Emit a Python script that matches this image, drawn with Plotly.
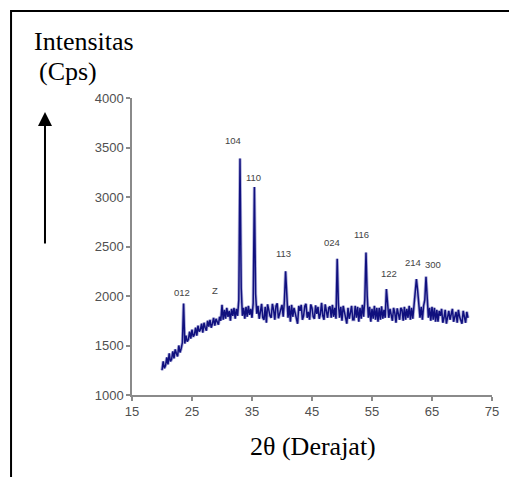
import plotly.graph_objects as go

# ---- data ----
theta_start = 20.0
theta_step = 0.2
intensity = [
    1250, 1340, 1270, 1300, 1380, 1310, 1420, 1340, 1360, 1440,
    1370, 1460, 1420, 1390, 1500, 1430, 1470, 1530, 1925, 1520,
    1600, 1540, 1560, 1640, 1570, 1660, 1590, 1610, 1680, 1600,
    1700, 1640, 1660, 1720, 1630, 1730, 1680, 1650, 1750, 1690,
    1760, 1680, 1720, 1780, 1700, 1770, 1740, 1710, 1790, 1750,
    1910, 1760, 1860, 1770, 1880, 1790, 1850, 1750, 1870, 1800,
    1880, 1770, 1870, 1800, 1960, 3390, 2080, 1800, 1880, 1770,
    1890, 1790, 1900, 1810, 1870, 1780, 1930, 3100, 2020, 1820,
    1900, 1770, 1840, 1920, 1780, 1760, 1890, 1730, 1915, 1850,
    1800, 1780, 1920, 1860, 1760, 1900, 1925, 1775, 1820, 1880,
    1910, 1790, 1950, 2250, 1920, 1780, 1900, 1740, 1910, 1790,
    1880, 1830, 1770, 1720, 1900, 1850, 1910, 1760, 1800, 1900,
    1920, 1780, 1840, 1760, 1915, 1880, 1790, 1770, 1905, 1820,
    1890, 1770, 1820, 1930, 1800, 1760, 1915, 1850, 1780, 1880,
    1895, 1780, 1910, 1790, 1880, 1770, 2375, 1920, 1780, 1890,
    1750, 1900, 1850, 1800, 1720, 1880, 1770, 1830, 1900, 1760,
    1760, 1900, 1780, 1890, 1740, 1880, 1770, 1910, 1790, 1960,
    2440, 2000, 1780, 1890, 1740, 1870, 1770, 1900, 1760, 1880,
    1740, 1880, 1760, 1895, 1770, 1860, 1780, 2070, 1910, 1780,
    1870, 1800, 1750, 1880, 1830, 1730, 1875, 1820, 1760, 1880,
    1860, 1750, 1890, 1760, 1870, 1780, 1900, 1760, 1880, 1770,
    1890, 2000, 2170, 2060, 1930, 1780, 1890, 1760, 1900, 1960,
    2195, 1950, 1780, 1880, 1750, 1890, 1760, 1880, 1740, 1860,
    1740, 1850, 1800, 1870, 1730, 1780, 1860, 1720, 1800, 1850,
    1760, 1830, 1870, 1740, 1800, 1840, 1730, 1860, 1790, 1760,
    1720, 1850, 1770, 1730, 1840, 1780,
]
two_theta = [round(theta_start + theta_step * i, 2) for i in range(len(intensity))]

peak_labels = ["012", "Z", "104", "110", "113", "024", "116", "122", "214", "300"]
peak_label_x = [23.3, 28.8, 31.8, 35.2, 40.2, 48.3, 53.3, 57.8, 61.8, 65.2]
peak_label_y = [2032, 2052, 3571, 3196, 2427, 2538, 2619, 2225, 2336, 2316]

x_ticks = [15, 25, 35, 45, 55, 65, 75]
y_ticks = [1000, 1500, 2000, 2500, 3000, 3500, 4000]

# ---- figure ----
fig = go.Figure()
# soft halo (scan blur) under the main line
fig.add_trace(go.Scatter(
    x=two_theta, y=intensity, mode="lines",
    line=dict(color="rgba(110,110,190,0.55)", width=3.2),
    hoverinfo="skip", showlegend=False,
))
fig.add_trace(go.Scatter(
    x=two_theta, y=intensity, mode="lines",
    line=dict(color="#10107e", width=1.5),
    hoverinfo="skip", showlegend=False,
))

annotations = []
for lab, lx, ly in zip(peak_labels, peak_label_x, peak_label_y):
    annotations.append(dict(
        x=lx, y=ly, xref="x", yref="y", text=lab, showarrow=False,
        font=dict(family="Arial, Liberation Sans", size=9.5, color="#444444"),
        xanchor="center", yanchor="middle",
    ))

serif = "Liberation Serif, Times New Roman, serif"
annotations += [
    dict(x=-0.278, y=1.189, xref="paper", yref="paper", text="Intensitas",
         showarrow=False, xanchor="left", yanchor="middle",
         font=dict(family=serif, size=26, color="black")),
    dict(x=-0.264, y=1.088, xref="paper", yref="paper", text="(Cps)",
         showarrow=False, xanchor="left", yanchor="middle",
         font=dict(family=serif, size=26, color="black")),
    dict(x=0.503, y=-0.175, xref="paper", yref="paper", text="2θ (Derajat)",
         showarrow=False, xanchor="center", yanchor="middle",
         font=dict(family=serif, size=26, color="black")),
    dict(x=-0.2417, y=0.953, xref="paper", yref="paper", text="",
         showarrow=True, ax=0, ay=133, arrowhead=2, arrowsize=1.4,
         arrowwidth=2, arrowcolor="black"),
]

fig.update_layout(
    width=509, height=469,
    margin=dict(l=124, r=25, t=90, b=82),
    paper_bgcolor="white", plot_bgcolor="white",
    annotations=annotations,
    shapes=[dict(type="rect", xref="paper", yref="paper",
                 x0=-0.336, y0=-0.35, x1=1.2, y1=1.293,
                 line=dict(color="black", width=2))],
    xaxis=dict(range=[15, 75], tickvals=x_ticks, showgrid=False, zeroline=False,
               showline=True, linecolor="#8a8a8a", linewidth=1.5,
               ticks="outside", ticklen=4, tickcolor="#8a8a8a", tickwidth=1.5,
               tickfont=dict(family="Arial, Liberation Sans", size=13, color="#505050")),
    yaxis=dict(range=[1000, 4000], tickvals=y_ticks, showgrid=False, zeroline=False,
               showline=True, linecolor="#8a8a8a", linewidth=1.5,
               ticks="outside", ticklen=4, tickcolor="#8a8a8a", tickwidth=1.5,
               tickfont=dict(family="Arial, Liberation Sans", size=13, color="#505050")),
)

fig.write_html("out.html")
